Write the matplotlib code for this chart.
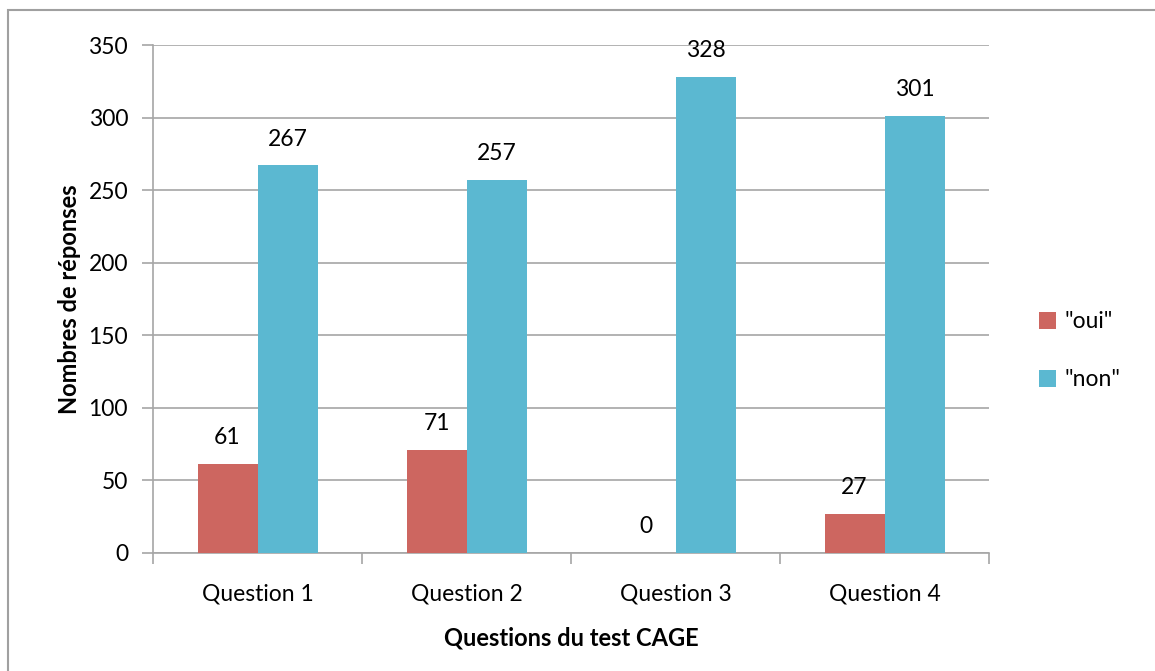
import matplotlib
matplotlib.use("Agg")
import matplotlib.pyplot as plt
import numpy as np
from matplotlib.patches import Rectangle

categories = ["Question 1", "Question 2", "Question 3", "Question 4"]
oui = [61, 71, 0, 27]
non = [267, 257, 328, 301]
series_names = ['"oui"', '"non"']
colors = ["#CD6660", "#5BB8D1"]

plt.rcParams['font.family'] = ['Lato', 'DejaVu Sans']

fig = plt.figure(figsize=(11.55, 6.71), dpi=100)
ax = fig.add_axes([0.1325, 0.1759, 0.7238, 0.757])

x = np.arange(len(categories))
w = 0.287
b1 = ax.bar(x - w/2, oui, w, color=colors[0], label=series_names[0], zorder=3)
b2 = ax.bar(x + w/2, non, w, color=colors[1], label=series_names[1], zorder=3)

for bars, vals in ((b1, oui), (b2, non)):
    for r, v in zip(bars, vals):
        ax.text(r.get_x() + r.get_width()/2, v + 11, str(v), ha='center', va='bottom',
                fontsize=16.5, color='black')

ax.set_xlim(-0.5, len(categories) - 0.5)
ax.set_ylim(0, 350)
ax.set_yticks(range(0, 351, 50))
ax.yaxis.grid(True, color='#A6A6A6', linewidth=1.2, zorder=0)
ax.set_axisbelow(True)
for s in ['top', 'right']:
    ax.spines[s].set_visible(False)
for s in ['left', 'bottom']:
    ax.spines[s].set_color('#A6A6A6')
    ax.spines[s].set_linewidth(1.2)

ax.set_xticks(np.arange(len(categories)))
ax.set_xticklabels(categories)
ax.set_xticks(np.arange(-0.5, len(categories)), minor=True)
ax.tick_params(axis='x', which='major', length=0, labelsize=16.5, pad=22)
ax.tick_params(axis='x', which='minor', length=8, width=1.2, color='#A6A6A6', direction='out')
ax.tick_params(axis='y', length=8, width=1.2, color='#A6A6A6', labelsize=16.5, pad=10)

ax.set_xlabel('Questions du test CAGE', fontsize=17, fontweight='bold', labelpad=16)
ax.set_ylabel('Nombres de réponses', fontsize=17, fontweight='bold', labelpad=5)

leg = ax.legend(loc='center left', bbox_to_anchor=(1.035, 0.398), frameon=False,
                fontsize=16.5, handlelength=0.75, handleheight=0.75, handletextpad=0.35,
                labelspacing=1.6)

fig.patches.append(Rectangle((0.007, -0.1), 1.1, 1.085, transform=fig.transFigure,
                             fill=False, edgecolor='#A0A0A0', linewidth=1.5))

fig.savefig('out.png', dpi=100)
